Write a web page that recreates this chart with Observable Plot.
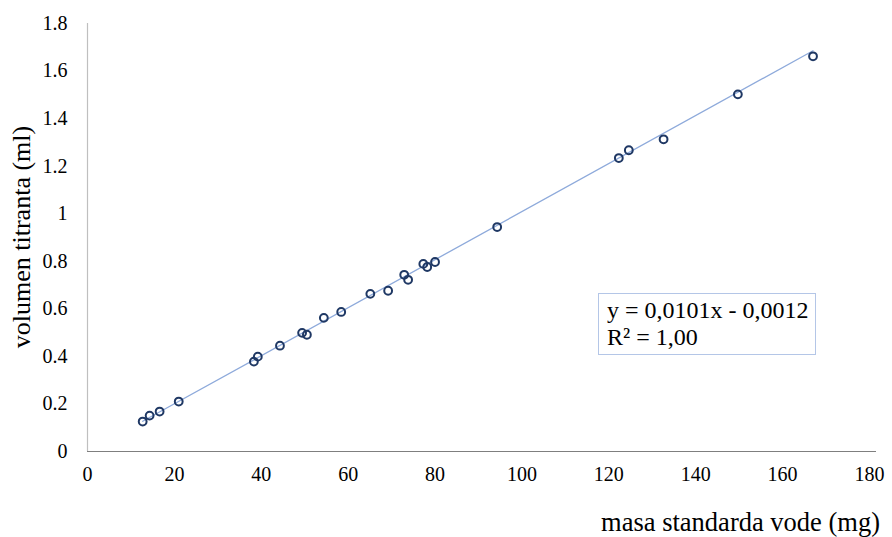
<!DOCTYPE html>
<html>
<head>
<meta charset="utf-8">
<script src="https://cdn.jsdelivr.net/npm/d3@7"></script>
<script src="https://cdn.jsdelivr.net/npm/@observablehq/plot@0.6"></script>
<style>
  html, body { margin: 0; padding: 0; background: #fff; }
  #wrap { position: relative; width: 892px; height: 537px; font-family: "Liberation Serif", "Times New Roman", serif; }
  #legend { position: absolute; left: 598px; top: 293px; width: 218px; height: 62px; border: 1.5px solid #b4c6e7; background: #fff;
    font-size: 24px; line-height: 27px; padding: 3px 0 0 8px; box-sizing: border-box; color: #000; white-space: nowrap; }
  #ytitle { position: absolute; left: 22px; top: 237px; transform: translate(-50%, -50%) rotate(-90deg); font-size: 26px; line-height: 26px; white-space: nowrap; }
  #xtitle { position: absolute; right: 12px; top: 509px; font-size: 26.5px; line-height: 26px; white-space: nowrap; }
</style>
</head>
<body>
<div id="wrap">
  <div id="chart"></div>
  <div id="ytitle">volumen titranta (ml)</div>
  <div id="xtitle">masa standarda vode (mg)</div>
  <div id="legend">y = 0,0101x - 0,0012<br>R² = 1,00</div>
</div>
<script>
const masa = [12.7, 14.3, 16.6, 21.0, 38.3, 39.2, 44.3, 49.4, 50.5, 54.4, 58.4, 65.1, 69.2, 72.9, 73.8, 77.3, 78.2, 80.0, 94.3, 122.3, 124.6, 132.6, 149.7, 167.0];
const volumen = [0.126, 0.151, 0.168, 0.210, 0.378, 0.399, 0.445, 0.499, 0.491, 0.562, 0.587, 0.663, 0.676, 0.743, 0.722, 0.789, 0.776, 0.797, 0.944, 1.234, 1.267, 1.313, 1.502, 1.662];
const slope = 0.0101;
const intercept = -0.0012;
const xTicks = [0, 20, 40, 60, 80, 100, 120, 140, 160, 180];
const yTicks = [0, 0.2, 0.4, 0.6, 0.8, 1, 1.2, 1.4, 1.6, 1.8];

const data = masa.map((m, i) => ({x: m, y: volumen[i]}));
const xmin = d3.min(masa), xmax = d3.max(masa);
const trend = [xmin, xmax].map(x => ({x, y: slope * x + intercept}));

const chart = Plot.plot({
  width: 892,
  height: 537,
  marginLeft: 87,
  marginRight: 23,
  marginTop: 23,
  marginBottom: 86,
  style: {fontFamily: '"Liberation Serif", "Times New Roman", serif', fontSize: "20px", color: "#000", background: "#fff"},
  x: {domain: [0, 180], ticks: xTicks, tickSize: 0, tickPadding: 15, label: null, tickFormat: d => String(d)},
  y: {domain: [0, 1.8], ticks: yTicks, tickSize: 0, tickPadding: 20, label: null, tickFormat: d => String(d)},
  marks: [
    Plot.ruleX([0], {stroke: "#bfbfbf", strokeWidth: 1.2}),
    Plot.ruleY([0], {stroke: "#7f7f7f", strokeWidth: 1.2, insetRight: -7}),
    Plot.line(trend, {x: "x", y: "y", stroke: "#8eaadb", strokeWidth: 1.3}),
    Plot.dot(data, {x: "x", y: "y", r: 3.9, stroke: "#1f3864", strokeWidth: 2, fill: "none"})
  ]
});
document.getElementById("chart").appendChild(chart);
</script>
</body>
</html>
